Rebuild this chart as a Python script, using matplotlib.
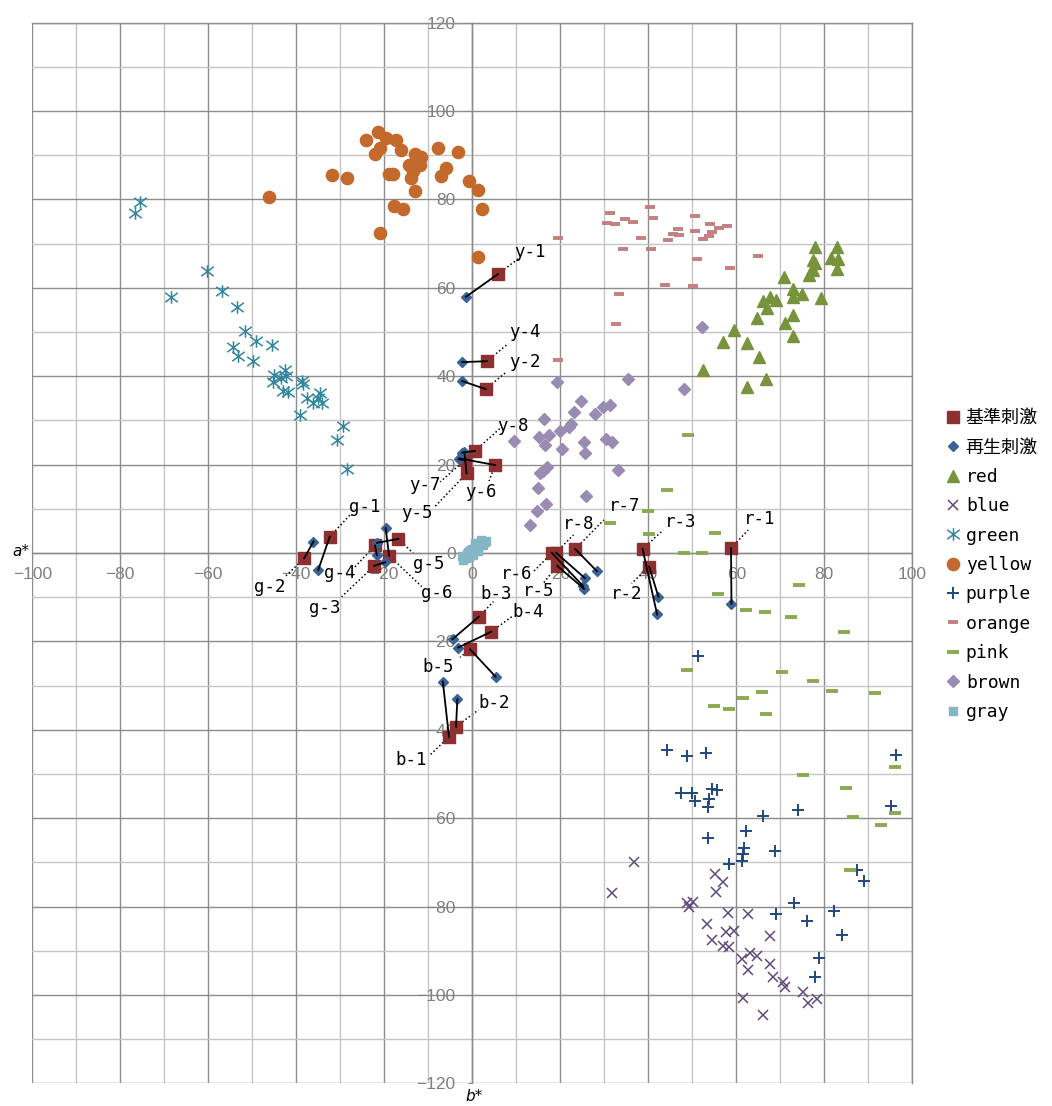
import numpy as np
import matplotlib.pyplot as plt
from matplotlib.path import Path

plt.rcParams['font.family'] = ['DejaVu Sans Mono', 'Noto Sans CJK JP']

# colour category samples (x = horizontal value, y = vertical value)
red_x = [77.8, 82.8, 81.5, 83.2, 77.5, 77.9, 82.8, 77.4, 76.6, 70.8, 72.8, 74.9, 72.8, 79.2, 66.1,
         67.7, 69.0, 67.0, 64.6, 72.9, 71.1, 72.9, 59.5, 57.0, 62.4, 65.1, 52.4, 66.7, 62.5]
red_y = [69.3, 69.2, 66.8, 66.5, 66.3, 65.7, 64.2, 64.0, 62.9, 62.5, 59.7, 58.5, 57.9, 57.8, 57.1,
         58.0, 57.3, 55.4, 53.1, 53.9, 52.1, 49.0, 50.5, 47.8, 47.5, 44.3, 41.4, 39.4, 37.6]

blue_x = [36.7, 31.8, 55.1, 56.9, 55.4, 48.9, 50.2, 49.3, 58.2, 62.6, 53.3, 57.6, 59.5, 67.6, 54.5,
          56.9, 58.4, 61.4, 63.0, 64.6, 67.7, 62.7, 68.4, 70.5, 71.1, 75.1, 76.4, 78.4, 61.6, 66.1]
blue_y = [-70.0, -76.9, -72.7, -74.5, -76.8, -79.1, -78.9, -80.2, -81.4, -81.7, -84.0, -85.8, -85.6,
          -86.7, -87.6, -88.9, -89.1, -91.9, -90.6, -91.1, -93.0, -94.4, -95.9, -97.0, -98.1, -99.3,
          -101.9, -101.0, -100.6, -104.5]

green_x = [-75.5, -76.6, -60.4, -56.8, -68.5, -53.4, -51.7, -49.2, -54.5, -45.5, -53.2, -49.8, -45.1,
           -42.6, -42.3, -45.2, -43.5, -38.8, -38.5, -43.0, -41.8, -37.5, -36.3, -34.6, -35.0, -34.2,
           -39.2, -29.3, -30.8, -28.5]
green_y = [79.4, 77.0, 63.7, 59.3, 58.0, 55.7, 50.3, 48.0, 46.7, 47.1, 44.6, 43.5, 40.2, 41.4, 40.1,
           38.8, 39.5, 39.0, 38.2, 36.7, 36.4, 35.0, 34.0, 36.1, 35.0, 33.9, 31.2, 28.8, 25.6, 19.0]

yellow_x = [-21.5, -24.2, -19.7, -17.4, -21.0, -22.1, -16.1, -13.0, -11.7, -7.9, -3.3, -14.5, -11.9,
            -13.4, -13.9, -6.0, -7.2, -18.9, -18.0, -31.8, -28.4, -0.8, 1.4, -13.0, -46.3, -17.9,
            -15.7, 2.1, -20.9, 1.3]
yellow_y = [95.2, 93.4, 93.8, 93.4, 91.7, 90.4, 91.3, 90.4, 89.5, 91.6, 90.8, 87.9, 87.8, 86.5, 84.9,
            87.1, 85.2, 85.7, 85.8, 85.5, 84.9, 84.1, 82.2, 81.9, 80.6, 78.5, 77.8, 77.8, 72.5, 67.0]

purple_x = [51.2, 44.2, 48.9, 53.0, 96.3, 47.4, 50.0, 54.5, 55.7, 50.5, 53.9, 53.6, 66.1, 74.0, 95.2,
            62.2, 53.6, 61.7, 68.9, 61.6, 61.4, 58.3, 87.5, 89.1, 73.0, 69.1, 76.0, 82.2, 84.0, 78.7,
            77.8]
purple_y = [-23.3, -44.6, -45.9, -45.2, -45.6, -54.3, -54.3, -53.4, -53.6, -56.2, -55.7, -57.5, -59.6,
            -58.2, -57.3, -62.8, -64.5, -66.7, -67.5, -68.1, -69.6, -70.4, -71.7, -74.2, -79.2, -81.8,
            -83.3, -81.0, -86.4, -91.6, -95.9]

orange_x = [40.4, 31.3, 30.7, 32.4, 34.7, 36.5, 41.0, 50.5, 54.0, 56.1, 57.9, 54.4, 53.9, 52.5, 50.7,
            46.8, 45.5, 46.9, 44.5, 38.3, 19.5, 34.2, 40.5, 51.0, 64.9, 58.6, 43.8, 50.2, 33.3, 32.6,
            19.5]
orange_y = [78.4, 77.0, 74.7, 74.5, 75.5, 74.9, 75.9, 76.2, 74.5, 73.5, 73.9, 72.7, 71.8, 71.1, 72.9,
            73.4, 72.2, 72.0, 70.8, 71.3, 71.3, 68.7, 68.8, 66.6, 67.1, 64.6, 60.7, 60.4, 58.5, 51.8,
            43.6]

pink_x = [49.0, 44.3, 39.9, 31.3, 40.2, 55.2, 48.0, 52.1, 74.3, 55.8, 62.1, 66.5, 72.4, 84.4, 48.7,
          70.3, 77.5, 81.8, 91.5, 61.5, 65.8, 55.0, 58.4, 66.8, 75.1, 96.1, 85.0, 86.5, 96.1, 92.9,
          85.8]
pink_y = [26.7, 14.2, 9.5, 6.9, 4.2, 4.5, 0.1, 0.1, -7.3, -9.2, -12.8, -13.4, -14.5, -17.9, -26.5,
          -27.0, -29.0, -31.3, -31.6, -32.7, -31.5, -34.7, -35.2, -36.4, -50.3, -48.5, -53.2, -59.7,
          -58.8, -61.6, -71.7]

brown_x = [52.1, 35.3, 19.2, 48.1, 24.8, 31.3, 29.8, 23.1, 27.9, 16.2, 22.4, 22.0, 19.9, 17.5, 15.2,
           9.5, 30.4, 31.7, 25.4, 16.5, 20.3, 25.7, 16.9, 16.1, 15.4, 33.0, 15.0, 25.8, 16.7, 14.8,
           13.1]
brown_y = [51.2, 39.3, 38.8, 37.0, 34.5, 33.5, 33.0, 32.0, 31.5, 30.3, 29.2, 28.4, 27.5, 26.8, 26.2,
           25.3, 25.7, 25.2, 25.2, 24.4, 23.5, 22.6, 19.5, 18.6, 18.0, 18.8, 14.8, 13.0, 11.0, 9.5,
           6.3]

gray_x = [-2.2, -1.8, -1.5, -1.2, -1.0, -0.7, -0.5, -0.2, 0.0, 0.3, 0.5, 0.8, 1.0, 1.2, 1.5, 1.8,
          2.0, 2.3, 2.6, 2.9, 3.1, -0.8, 0.2, 1.4, 2.4, -2.4, 0.6, 1.9]
gray_y = [-1.5, -0.8, -1.2, -0.3, 0.2, -0.6, 0.6, 0.0, 0.9, 0.5, 1.3, 0.8, 1.6, 1.2, 2.0, 1.7,
          2.4, 2.1, 2.6, 2.4, 2.8, -1.0, -0.4, 0.4, 1.8, -0.6, 2.2, 2.9]

# reference stimulus (基準刺激) and reproduced stimulus (再生刺激) pairs
pair_names = ['y-1', 'y-2', 'y-4', 'y-5', 'y-6', 'y-7', 'y-8',
              'g-1', 'g-2', 'g-3', 'g-4', 'g-5', 'g-6',
              'b-1', 'b-2', 'b-3', 'b-4', 'b-5',
              'r-1', 'r-2', 'r-3', 'r-5', 'r-6', 'r-7', 'r-8']
std_x = [5.8, 3.0, 3.3, -1.3, 5.2, -1.7, 0.6,
         -32.4, -38.2, -22.3, -22.1, -16.8, -18.9,
         -5.3, -3.7, 1.5, 4.3, -0.5,
         58.8, 40.2, 38.7, 19.3, 18.1, 23.4, 19.0]
std_y = [63.1, 37.1, 43.4, 18.0, 19.9, 21.0, 23.1,
         3.7, -1.2, -2.9, 1.7, 3.2, -0.6,
         -41.6, -39.3, -14.4, -17.8, -21.8,
         1.1, -3.1, 0.9, -2.9, 0.0, 0.9, 0.1]
rep_x = [-1.4, -2.3, -2.3, -1.8, -2.9, -3.1, -2.3,
         -35.0, -36.1, -19.8, -21.7, -21.7, -19.7,
         -6.7, -3.4, -4.5, -3.2, 5.3,
         58.9, 42.3, 42.0, 25.4, 25.2, 28.3, 25.6]
rep_y = [58.0, 38.9, 43.2, 22.9, 21.4, 21.2, 22.7,
         -3.8, 2.6, -2.1, -0.5, 2.3, 5.6,
         -29.1, -33.1, -19.5, -21.4, -28.0,
         -11.5, -9.9, -13.9, -8.1, -7.5, -4.1, -5.7]

# label placement: text centre and end of the dotted leader
lab_x = [13.1, 12.0, 12.0, -12.6, 2.0, -10.8, 9.3,
         -24.4, -46.1, -33.5, -30.1, -9.8, -8.1,
         -13.9, 5.0, 5.5, 12.7, -7.7,
         65.2, 35.1, 47.4, 15.0, 10.1, 34.7, 24.1]
lab_y = [68.2, 43.3, 50.1, 9.1, 13.9, 15.4, 28.7,
         10.3, -7.6, -12.5, -4.5, -2.5, -9.0,
         -46.8, -34.0, -9.3, -13.3, -25.7,
         7.6, -9.3, 7.1, -8.5, -4.8, 10.6, 6.6]
lead_x = [10.5, 7.8, 8.2, -8.5, 3.8, -7.3, 6.3,
          -27.8, -42.6, -29.7, -27.0, -13.4, -11.5,
          -9.6, 1.4, 4.8, 9.0, -2.8,
          62.7, 36.2, 43.4, 16.1, 13.9, 29.9, 23.0]
lead_y = [66.6, 41.0, 47.4, 10.5, 16.3, 16.1, 28.2,
          8.6, -5.4, -9.9, -3.5, -0.1, -7.6,
          -45.7, -35.5, -11.0, -14.4, -23.6,
          5.2, -6.9, 5.2, -6.9, -4.2, 7.5, 4.1]

fig = plt.figure(figsize=(10.52, 11.06), dpi=100)
ax = fig.add_axes([32.3 / 1052, 1 - 1083.3 / 1106, 880 / 1052, 1060.6 / 1106])
ax.set_xlim(-100, 100)
ax.set_ylim(-120, 120)

# grid: light every 10, darker every 20
ax.set_xticks(np.arange(-100, 101, 20))
ax.set_yticks(np.arange(-120, 121, 20))
ax.set_xticks(np.arange(-90, 100, 20), minor=True)
ax.set_yticks(np.arange(-110, 120, 20), minor=True)
ax.grid(which='major', color='#8c8c8c', lw=1.0, zorder=0)
ax.grid(which='minor', color='#c4c4c4', lw=1.0, zorder=0)
ax.set_axisbelow(True)

for s in ['left', 'bottom']:
    ax.spines[s].set_position(('data', 0))
    ax.spines[s].set_color('#8c8c8c')
    ax.spines[s].set_linewidth(1.0)
for s in ['top', 'right']:
    ax.spines[s].set_color('#8c8c8c')
    ax.spines[s].set_linewidth(1.0)

tick_font = {'family': ['Liberation Sans Narrow', 'Liberation Sans'], 'size': 12.5}
ax.tick_params(which='major', direction='out', length=3, color='#8c8c8c', labelcolor='#808080')
ax.tick_params(axis='y', pad=9)
ax.tick_params(axis='x', pad=7)
ax.tick_params(which='minor', length=0)
for lab in ax.get_xticklabels() + ax.get_yticklabels():
    lab.set_fontfamily(tick_font['family'])
    lab.set_fontsize(tick_font['size'])

ax.text(-100.6, 0.4, 'a*', ha='right', va='center', fontsize=11, style='italic',
        family='DejaVu Sans', clip_on=False)
ax.text(0.5, -121.3, 'b*', ha='center', va='top', fontsize=11, style='italic',
        family='DejaVu Sans', clip_on=False)

# custom asterisk marker
ast = Path([(-1, -0.75), (1, 0.75), (-1, 0.75), (1, -0.75), (0, -1), (0, 1)],
           [Path.MOVETO, Path.LINETO, Path.MOVETO, Path.LINETO, Path.MOVETO, Path.LINETO])

h_std, = ax.plot(std_x, std_y, ls='none', marker='s', ms=9, color='#8e2f30', zorder=4)
h_rep, = ax.plot(rep_x, rep_y, ls='none', marker='D', ms=5.2, color='#3a6294', zorder=4)
h_red, = ax.plot(red_x, red_y, ls='none', marker='^', ms=9, color='#77933c', zorder=3)
h_blue, = ax.plot(blue_x, blue_y, ls='none', marker='x', ms=7.5, mew=1.1, color='#604a7b', zorder=3)
h_green, = ax.plot(green_x, green_y, ls='none', marker=ast, ms=9, mew=1.1, color='#31859c', zorder=3)
h_yellow, = ax.plot(yellow_x, yellow_y, ls='none', marker='o', ms=8.8, color='#c3692b', zorder=3)
h_purple, = ax.plot(purple_x, purple_y, ls='none', marker='+', ms=8.5, mew=1.4, color='#1f497d', zorder=3)
h_orange, = ax.plot(orange_x, orange_y, ls='none', marker='_', ms=7, mew=2.8, color='#c47f80', zorder=3)
h_pink, = ax.plot(pink_x, pink_y, ls='none', marker='_', ms=8.5, mew=2.8, color='#8aaa52', zorder=3)
h_brown, = ax.plot(brown_x, brown_y, ls='none', marker='D', ms=6, color='#9a8bb3', zorder=3)
h_gray, = ax.plot(gray_x, gray_y, ls='none', marker='s', ms=5.5, color='#85b6c6', zorder=3)

# pair connectors and labelled leaders
for i, name in enumerate(pair_names):
    ax.plot([std_x[i], rep_x[i]], [std_y[i], rep_y[i]], color='black', lw=1.3, zorder=5)
    ax.plot([std_x[i], lead_x[i]], [std_y[i], lead_y[i]], color='black', lw=1.1,
            ls=(0, (1, 1.6)), zorder=2)
    ax.text(lab_x[i], lab_y[i], name, ha='center', va='center', fontsize=12.5, zorder=6)

handles = [h_std, h_rep, h_red, h_blue, h_green, h_yellow, h_purple, h_orange, h_pink, h_brown, h_gray]
labels = ['基準刺激', '再生刺激', 'red', 'blue', 'green', 'yellow', 'purple', 'orange', 'pink',
          'brown', 'gray']
fig.legend(handles, labels, loc='center left', bbox_to_anchor=(945 / 1052, 1 - 565 / 1106),
           frameon=False, fontsize=13, handlelength=0.9, handletextpad=0.25,
           labelspacing=0.63, borderpad=0, borderaxespad=0)

fig.savefig('out.png', dpi=100)
